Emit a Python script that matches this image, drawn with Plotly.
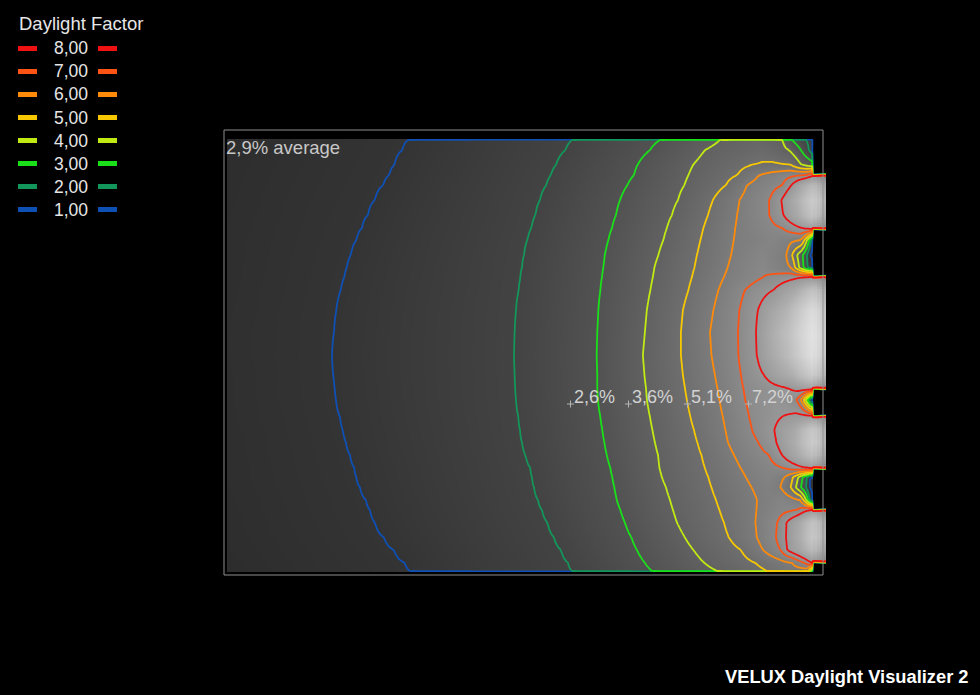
import numpy as np
import plotly.graph_objects as go

# Room plan in metres: d = distance from the window wall, y = position along the facade (from the top wall)
ROOM_DEPTH = 11.68
ROOM_WIDTH = 8.62
WINDOWS = [(0.70, 1.76), (2.74, 4.96), (5.54, 6.56), (7.40, 8.46)]

LEVELS = [1, 2, 3, 4, 5, 6, 7, 8]
LEVEL_COLORS = ["#0f50b4", "#13965a", "#1ae01a", "#c0ea12", "#f7c800", "#ff8a0a", "#ff5414", "#f01212"]

AVERAGE_DF = 2.9
SAMPLE_D = [4.83, 3.67, 2.49, 1.27]
SAMPLE_Y = [5.28, 5.28, 5.28, 5.28]
SAMPLE_DF = [2.6, 3.6, 5.1, 7.2]

# Daylight factor profiles across the room, one per facade position: (d, DF) pairs
PROFILE_Y = [0.00, 0.20, 0.50, 0.70, 0.90, 1.20, 1.50, 1.76, 2.00, 2.30, 2.55, 2.74,
             3.00, 3.40, 3.85, 4.30, 4.70, 4.96, 5.20, 5.54, 5.80, 6.05, 6.30, 6.56,
             6.75, 6.95, 7.20, 7.40, 7.65, 7.95, 8.20, 8.46, 8.62]
PROFILES = [
    [(0, 1.6), (0.40, 3), (0.58, 4), (1.1, 4.4), (1.84, 4), (3.04, 3), (4.80, 2), (8.08, 1), (11.68, 0.60)],
    [(0, 1.5), (0.06, 2), (0.22, 3), (0.46, 4), (1.0, 4.7), (2.14, 4), (3.24, 3), (4.93, 2), (8.19, 1), (11.68, 0.62)],
    [(0, 3.5), (0.21, 4), (0.42, 5), (0.8, 5.15), (1.2, 5), (2.38, 4), (3.49, 3), (5.12, 2), (8.35, 1), (11.68, 0.64)],
    [(0, 7.6), (0.12, 7), (0.5, 6.7), (1.06, 6), (1.49, 5), (2.47, 4), (3.56, 3), (5.22, 2), (8.45, 1), (11.68, 0.65)],
    [(0, 11), (0.41, 8), (0.59, 7), (1.30, 6), (1.72, 5), (2.55, 4), (3.69, 3), (5.31, 2), (8.57, 1), (11.68, 0.66)],
    [(0, 13), (0.3, 10), (0.61, 8), (0.85, 7), (1.45, 6), (1.98, 5), (2.68, 4), (3.84, 3), (5.44, 2), (8.74, 1), (11.68, 0.67)],
    [(0, 12), (0.3, 9.5), (0.57, 8), (0.85, 7), (1.50, 6), (2.08, 5), (2.80, 4), (3.92, 3), (5.53, 2), (8.88, 1), (11.68, 0.68)],
    [(0, 8.5), (0.2, 8), (0.6, 7), (1.54, 6), (2.17, 5), (2.90, 4), (4.00, 3), (5.61, 2), (9.00, 1), (11.68, 0.69)],
    [(0, 1.5), (0.02, 2), (0.05, 3), (0.10, 4), (0.15, 5), (0.22, 6), (0.8, 6.6), (1.57, 6), (2.23, 5), (2.97, 4), (4.07, 3), (5.69, 2), (9.11, 1), (11.68, 0.70)],
    [(0, 0.8), (0.04, 1), (0.10, 2), (0.18, 3), (0.30, 4), (0.40, 5), (0.50, 6), (1.0, 6.7), (1.62, 6), (2.30, 5), (3.07, 4), (4.14, 3), (5.76, 2), (9.22, 1), (11.68, 0.70)],
    [(0, 1.5), (0.09, 2), (0.17, 3), (0.26, 4), (0.34, 5), (0.42, 6), (1.0, 6.85), (1.69, 6), (2.35, 5), (3.15, 4), (4.17, 3), (5.80, 2), (9.30, 1), (11.68, 0.71)],
    [(0, 8.2), (0.1, 8), (0.97, 7), (1.76, 6), (2.40, 5), (3.18, 4), (4.20, 3), (5.83, 2), (9.35, 1), (11.68, 0.71)],
    [(0, 12), (0.35, 9.5), (0.77, 8), (1.34, 7), (1.87, 6), (2.47, 5), (3.23, 4), (4.23, 3), (5.86, 2), (9.42, 1), (11.68, 0.72)],
    [(0, 15), (0.5, 10.5), (1.08, 8), (1.45, 7), (1.97, 6), (2.58, 5), (3.30, 4), (4.27, 3), (5.92, 2), (9.51, 1), (11.68, 0.73)],
    [(0, 16), (0.5, 11.5), (1.12, 8), (1.48, 7), (2.04, 6), (2.62, 5), (3.34, 4), (4.29, 3), (5.94, 2), (9.56, 1), (11.68, 0.74)],
    [(0, 15.5), (0.5, 11), (1.10, 8), (1.47, 7), (2.01, 6), (2.62, 5), (3.38, 4), (4.30, 3), (5.96, 2), (9.60, 1), (11.68, 0.74)],
    [(0, 13), (0.4, 10), (0.96, 8), (1.42, 7), (1.94, 6), (2.58, 5), (3.35, 4), (4.29, 3), (5.94, 2), (9.57, 1), (11.68, 0.73)],
    [(0, 9), (0.48, 8), (1.38, 7), (1.89, 6), (2.54, 5), (3.32, 4), (4.29, 3), (5.93, 2), (9.54, 1), (11.68, 0.73)],
    [(0, 0.8), (0.03, 1), (0.06, 2), (0.09, 3), (0.13, 4), (0.17, 5), (0.22, 6), (0.30, 7), (0.7, 7.8), (1.34, 7), (1.85, 6), (2.50, 5), (3.30, 4), (4.28, 3), (5.92, 2), (9.52, 1), (11.68, 0.73)],
    [(0, 8.6), (0.6, 8), (1.26, 7), (1.78, 6), (2.43, 5), (3.24, 4), (4.23, 3), (5.87, 2), (9.44, 1), (11.68, 0.72)],
    [(0, 12.5), (0.35, 9.5), (0.75, 8), (1.20, 7), (1.73, 6), (2.36, 5), (3.19, 4), (4.19, 3), (5.84, 2), (9.38, 1), (11.68, 0.71)],
    [(0, 13), (0.35, 9.8), (0.71, 8), (1.07, 7), (1.68, 6), (2.29, 5), (3.14, 4), (4.15, 3), (5.80, 2), (9.32, 1), (11.68, 0.70)],
    [(0, 11.5), (0.3, 9.5), (0.6, 8), (0.86, 7), (1.56, 6), (2.21, 5), (3.08, 4), (4.10, 3), (5.73, 2), (9.24, 1), (11.68, 0.70)],
    [(0, 8.3), (0.1, 8), (0.57, 7), (1.43, 6), (2.14, 5), (3.05, 4), (4.03, 3), (5.63, 2), (9.15, 1), (11.68, 0.69)],
    [(0, 0.9), (0.04, 1), (0.10, 2), (0.19, 3), (0.28, 4), (0.38, 5), (0.55, 6), (0.9, 6.5), (1.32, 6), (2.07, 5), (3.00, 4), (3.99, 3), (5.60, 2), (9.11, 1), (11.68, 0.69)],
    [(0, 0.8), (0.05, 1), (0.12, 2), (0.22, 3), (0.32, 4), (0.42, 5), (0.62, 6), (0.9, 6.3), (1.21, 6), (2.01, 5), (2.92, 4), (3.95, 3), (5.56, 2), (9.04, 1), (11.68, 0.68)],
    [(0, 1.3), (0.05, 2), (0.08, 3), (0.12, 4), (0.17, 5), (0.24, 6), (0.6, 6.6), (1.10, 6), (1.92, 5), (2.84, 4), (3.90, 3), (5.48, 2), (8.92, 1), (11.68, 0.67)],
    [(0, 8.2), (0.05, 8), (0.3, 7), (0.7, 6.6), (1.11, 6), (1.85, 5), (2.78, 4), (3.83, 3), (5.40, 2), (8.84, 1), (11.68, 0.66)],
    [(0, 12), (0.25, 9.5), (0.51, 8), (0.69, 7), (1.13, 6), (1.76, 5), (2.70, 4), (3.74, 3), (5.29, 2), (8.74, 1), (11.68, 0.65)],
    [(0, 12.5), (0.25, 9.8), (0.52, 8), (0.72, 7), (1.10, 6), (1.66, 5), (2.54, 4), (3.61, 3), (5.16, 2), (8.56, 1), (11.68, 0.64)],
    [(0, 11), (0.25, 9.2), (0.50, 8), (0.63, 7), (0.98, 6), (1.42, 5), (2.37, 4), (3.50, 3), (5.02, 2), (8.36, 1), (11.68, 0.62)],
    [(0, 8.0), (0.15, 7), (0.4, 6), (1.13, 5), (2.15, 4), (3.34, 3), (4.88, 2), (8.14, 1), (11.68, 0.60)],
    [(0, 3), (0.1, 5.5), (0.5, 5.6), (0.90, 5), (1.90, 4), (3.20, 3), (4.80, 2), (8.04, 1), (11.68, 0.58)],
]

FONT = "Liberation Sans, Arial, sans-serif"

# ---- build the daylight-factor table on a regular grid ----
d_grid = np.linspace(0.0, ROOM_DEPTH, 293)
y_grid = np.linspace(0.0, ROOM_WIDTH, 217)
rows = np.array([np.interp(d_grid, [p[0] for p in pr], [p[1] for p in pr]) for pr in PROFILES])
field = np.array([np.interp(y_grid, PROFILE_Y, rows[:, j]) for j in range(len(d_grid))]).T

in_window = np.zeros(len(y_grid), dtype=bool)
for lo, hi in WINDOWS:
    in_window |= (y_grid >= lo) & (y_grid <= hi)
wall = field[:, 0]
opening = np.where(in_window, wall, 0.0)

# contour table: room plus window reveals, surrounded by unlit space
xc = np.concatenate([[-0.34, -0.30, -0.02], d_grid])
zc = np.column_stack([np.zeros(len(y_grid)), opening, opening, field])
yc = np.concatenate([[-0.02], y_grid, [ROOM_WIDTH + 0.02]])
zc = np.vstack([np.zeros(zc.shape[1]), zc, np.zeros(zc.shape[1])])

# window reveal shading
reveal_x = [-0.265, -0.195, -0.125, -0.055]
reveal_k = np.array([0.82, 0.87, 0.92, 0.97])
reveal_z = np.where(in_window[:, None], wall[:, None] * reveal_k[None, :], np.nan)

gray_stops = [(0, "#262626"), (0.6, "#2d2d2d"), (1, "#343434"), (2, "#434343"), (3, "#525252"),
              (4, "#616161"), (6, "#7c7c7c"), (8, "#989898"), (11, "#bababa"), (14, "#d4d4d4"), (16, "#e2e2e2")]
gray_scale = [[v / 16.0, c] for v, c in gray_stops]
line_scale = [[(lv - 1) / 7.0, c] for lv, c in zip(LEVELS, LEVEL_COLORS)]

fig = go.Figure()
fig.add_trace(go.Heatmap(x=d_grid, y=y_grid, z=field, colorscale=gray_scale, zmin=0, zmax=16,
                         zsmooth="best", showscale=False, hoverinfo="skip"))
fig.add_trace(go.Heatmap(x=reveal_x, y=y_grid, z=reveal_z, colorscale=gray_scale, zmin=0, zmax=16,
                         zsmooth=False, showscale=False, hoverinfo="skip"))
fig.add_trace(go.Contour(x=xc, y=yc, z=zc, autocontour=False,
                         contours=dict(start=LEVELS[0], end=LEVELS[-1], size=1, coloring="lines"),
                         colorscale=line_scale, zmin=1, zmax=8, showscale=False,
                         line=dict(width=1.8, smoothing=1.0), hoverinfo="skip"))

# measurement points
fig.add_trace(go.Scatter(x=SAMPLE_D, y=SAMPLE_Y, mode="markers",
                         marker=dict(symbol="cross-thin", size=5, line=dict(color="#b4b4b4", width=1)),
                         hoverinfo="skip"))

# plot window: pixel helpers for the page furniture
L, R, T, B = 220, 826, 126, 579
def px(x):
    return (x - L) / (R - L)
def py(y):
    return (B - y) / (B - T)

shapes = [dict(type="rect", xref="x", yref="y", x0=11.76, x1=-0.22, y0=-0.20, y1=8.70,
               line=dict(color="#8e8e8e", width=1), fillcolor="rgba(0,0,0,0)")]
annotations = [
    dict(text="Daylight Factor", xref="paper", yref="paper", x=px(17), y=py(24),
         xanchor="left", yanchor="middle", showarrow=False,
         font=dict(family=FONT, size=18.5, color="#e6e6e6")),
    dict(text=f"{AVERAGE_DF:.1f}% average".replace(".", ","), xref="paper", yref="paper",
         x=px(224), y=py(147), xanchor="left", yanchor="middle", showarrow=False,
         font=dict(family=FONT, size=18.5, color="#c8c8c8")),
    dict(text="<b>VELUX Daylight Visualizer 2</b>", xref="paper", yref="paper",
         x=px(971), y=py(676), xanchor="right", yanchor="middle", showarrow=False,
         font=dict(family=FONT, size=18.3, color="#ffffff")),
]
for sd, sy, sv in zip(SAMPLE_D, SAMPLE_Y, SAMPLE_DF):
    annotations.append(dict(text=f"{sv:.1f}%".replace(".", ","), x=sd, y=sy, xref="x", yref="y",
                            xanchor="left", yanchor="middle", xshift=1, yshift=7, showarrow=False,
                            font=dict(family=FONT, size=18, color="#d2d2d2")))
for k, (lv, col) in enumerate(sorted(zip(LEVELS, LEVEL_COLORS), reverse=True)):
    cy = 48.5 + 23.0 * k
    for x0, x1 in ((18, 37), (98, 117)):
        shapes.append(dict(type="rect", xref="paper", yref="paper", x0=px(x0), x1=px(x1),
                           y0=py(cy + 2.5), y1=py(cy - 2.5), fillcolor=col, line=dict(width=0)))
    annotations.append(dict(text=f"{lv:.2f}".replace(".", ","), xref="paper", yref="paper",
                            x=px(52), y=py(cy), xanchor="left", yanchor="middle", showarrow=False,
                            font=dict(family=FONT, size=17.5, color="#e6e6e6")))

fig.update_layout(
    width=980, height=695,
    margin=dict(l=L, r=980 - R, t=T, b=695 - B, pad=0),
    paper_bgcolor="black", plot_bgcolor="black",
    xaxis=dict(range=[(812 - L) / 50, (812 - R) / 50], visible=False, showgrid=False, zeroline=False),
    yaxis=dict(range=[(B - 140) / 50, (T - 140) / 50], visible=False, showgrid=False, zeroline=False),
    showlegend=False, shapes=shapes, annotations=annotations,
)

fig.write_html("out.html")
